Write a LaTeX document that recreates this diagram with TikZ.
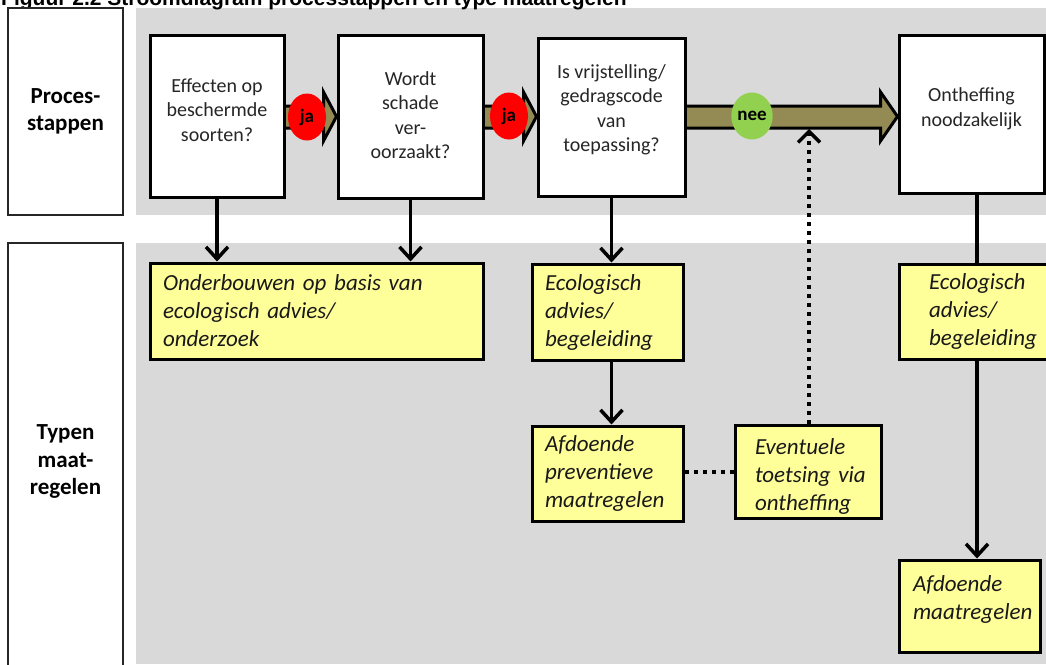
\documentclass[tikz,border=0pt]{standalone}
\usepackage{fontspec}
\setmainfont{Carlito}
\newfontfamily\titlefont{Liberation Sans}
\usetikzlibrary{arrows.meta,calc,shapes.geometric}
\pgfdeclarelayer{bands}
\pgfdeclarelayer{arrowlayer}
\pgfsetlayers{bands,arrowlayer,main}
\definecolor{bandgray}{HTML}{D9D9D9}
\definecolor{olivearrow}{HTML}{948A54}
\definecolor{jared}{HTML}{FF0000}
\definecolor{neegreen}{HTML}{92D050}
\definecolor{boxyellow}{HTML}{FFFF99}
\begin{document}
\begin{tikzpicture}[x=1pt,y=-1pt,
  labelbox/.style={draw=black!85, line width=1.5pt, fill=white, inner sep=0pt, align=center,
    font=\fontsize{23}{27.5}\selectfont\bfseries},
  procbox/.style={draw=black, line width=3pt, fill=white, inner sep=0pt},
  proctext/.style={align=center, inner sep=0pt, font=\fontsize{20}{24.5}\selectfont, text=black!85},
  measure/.style={draw=black, line width=3pt, fill=boxyellow, inner sep=0pt, align=left,
    font=\fontsize{23}{28}\selectfont\itshape, text=black!90},
  decision/.style={ellipse, inner sep=0pt, minimum width=38pt, minimum height=47pt,
    font=\fontsize{19}{22}\selectfont\bfseries},
  flowarrow/.style={draw=black, line width=3pt, fill=olivearrow, line join=miter},
  plainline/.style={line width=3.5pt},
  downarrow/.style={line width=3.5pt, -{Straight Barb[length=12pt,width=22pt]}},
  dotline/.style={line width=4pt, dash pattern=on 4pt off 5pt},
  dotarrow/.style={dotline, -{Straight Barb[length=11pt,width=22pt,line width=3.5pt]}}
]
\useasboundingbox (0,0) rectangle (1046,664);

\begin{pgfonlayer}{bands}
  \fill[white] (0,0) rectangle (1046,664);
  \fill[bandgray] (136,8) rectangle (1046,215);
  \fill[bandgray] (136,243) rectangle (1046,664);
\end{pgfonlayer}

% title (cut off at the top, as in the source)
\node[anchor=base west, inner sep=0pt, font=\titlefont\bfseries\fontsize{21}{24}\selectfont] (title)
  at (1,5.5) {Figuur 2.2 Stroomdiagram processtappen en type maatregelen};

% row labels
\node[labelbox, minimum width=115pt, minimum height=207pt] (lab1) at (65.5,111.5) {Proces-\\stappen};
\node[labelbox, minimum width=115pt, minimum height=437pt] (lab2) at (65.5,461.5) {Typen\\maat-\\regelen};

% process steps
\node[procbox, minimum width=134pt, minimum height=162pt] (b1) at (217,116) {};
\node[procbox, minimum width=145pt, minimum height=163pt] (b2) at (410.5,116.5) {};
\node[procbox, minimum width=147pt, minimum height=158pt] (b3) at (611.5,117) {};
\node[procbox, minimum width=145pt, minimum height=158pt] (b4) at (971.5,114) {};

\node[proctext, yshift=6pt] (b1t) at (b1.center) {Effecten op\\beschermde\\soorten?};
\node[proctext, yshift=1.5pt] (b2t) at (b2.center) {Wordt\\schade\\ver-\\oorzaakt?};
\node[proctext, yshift=7pt] (b3t) at (b3.center) {Is vrijstelling/\\gedragscode\\van\\toepassing?};
\node[proctext, yshift=5pt] (b4t) at (b4.center) {Ontheffing\\noodzakelijk};

% measures
\node[measure, minimum width=333pt, minimum height=96pt, text width=307pt] (y1) at (316.5,311) {Onderbouwen op basis van\\ecologisch advies/\\onderzoek};
\node[measure, minimum width=151pt, minimum height=96pt, text width=125pt] (y2) at (607.5,312) {Ecologisch\\advies/\\begeleiding};
\node[measure, minimum width=151pt, minimum height=95pt, text width=125pt] (y3) at (607.5,473.5) {Afdoende\\preventieve\\maatregelen};
\node[measure, minimum width=146pt, minimum height=93pt, text width=106pt] (y4) at (808,471.5) {\mbox{}\\[-2pt]Eventuele\\toetsing~via\\ontheffing};
\node[measure, minimum width=153pt, minimum height=95pt, text width=93pt] (y5) at (975.5,311.5) {Ecologisch\\advies/\\begeleiding};
\node[measure, minimum width=141pt, minimum height=92pt, text width=113pt] (y6) at (969.5,606) {Afdoende\\maatregelen\\[-12pt]\mbox{}};

% olive flow arrows (behind the boxes)
\begin{pgfonlayer}{arrowlayer}
  \draw[flowarrow] (b1.east |- 0,106) -- ($(b2.west |- 0,106)+(-13,0)$) -- ($(b2.west |- 0,92)+(-13,0)$)
    -- (b2.west |- 0,116.5) -- ($(b2.west |- 0,141)+(-13,0)$) -- ($(b2.west |- 0,128)+(-13,0)$) -- (b1.east |- 0,128);
  \draw[flowarrow] (b2.east |- 0,106) -- ($(b3.west |- 0,106)+(-13,0)$) -- ($(b3.west |- 0,92)+(-13,0)$)
    -- (b3.west |- 0,116.5) -- ($(b3.west |- 0,141)+(-13,0)$) -- ($(b3.west |- 0,128)+(-13,0)$) -- (b2.east |- 0,128);
  \draw[flowarrow] (b3.east |- 0,106) -- ($(b4.west |- 0,106)+(-17,0)$) -- ($(b4.west |- 0,92)+(-17,0)$)
    -- (b4.west |- 0,116.5) -- ($(b4.west |- 0,141)+(-17,0)$) -- ($(b4.west |- 0,128)+(-17,0)$) -- (b3.east |- 0,128);
\end{pgfonlayer}

% decisions
\node[decision, fill=jared] (ja1) at (307,117) {ja};
\node[decision, fill=jared] (ja2) at (509,116) {ja};
\node[decision, fill=neegreen] (nee) at (752,116) {nee};

% vertical connectors
\draw[downarrow] (b1.south) -- (b1.south |- y1.north);
\draw[downarrow] (b2.south) -- (b2.south |- y1.north);
\draw[downarrow] (b3.south) -- (b3.south |- y2.north);
\draw[downarrow] (y2.south -| b3.south) -- (y3.north -| b3.south);
\coordinate (b4foot) at ([xshift=5.5pt]b4.south);
\draw[plainline] (b4foot) -- (b4foot |- y5.north);
\draw[downarrow] (b4foot |- y5.south) -- (b4foot |- y6.north);

% dotted connectors
\draw[dotline] (y3.east |- 0,472) -- (y4.west |- 0,472);
\coordinate (shaftbottom) at (y4.north |- 0,129);
\draw[dotarrow] ([xshift=1pt]y4.north) -- ([xshift=1pt]shaftbottom);
\end{tikzpicture}
\end{document}
